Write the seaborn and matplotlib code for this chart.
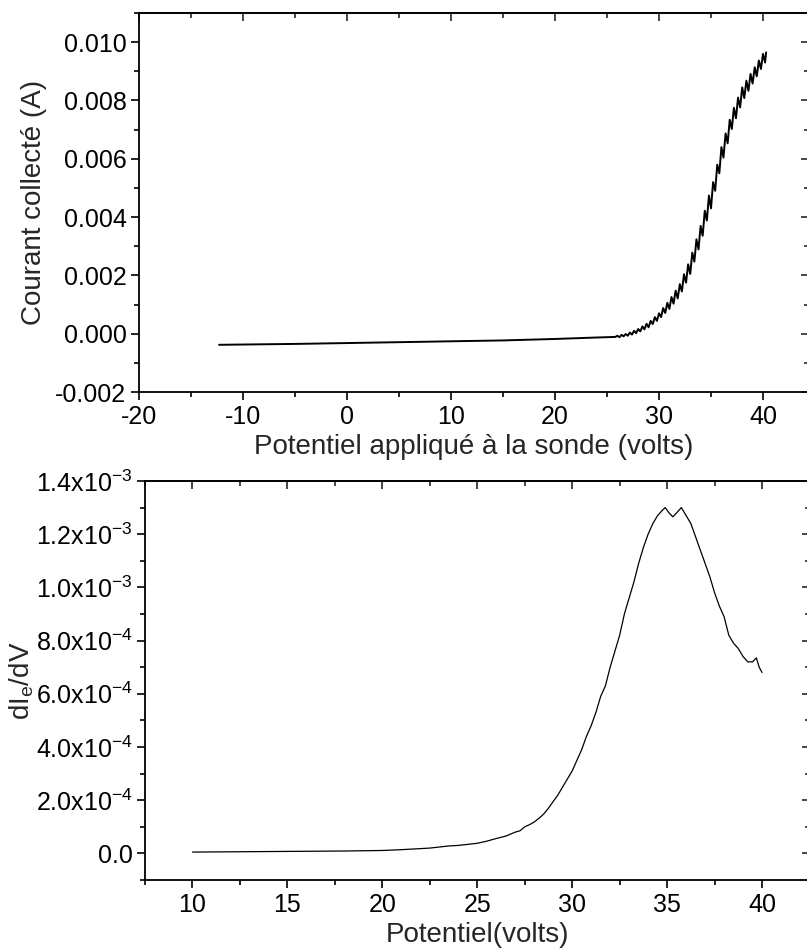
import numpy as np
import pandas as pd
import matplotlib
matplotlib.use("Agg")
import matplotlib.pyplot as plt
import seaborn as sns
from matplotlib.ticker import MultipleLocator, FuncFormatter

# --- top panel: probe I-V characteristic ---
iv_volts = [-12.3, -5.0, 0.0, 5.0, 10.0, 15.0, 20.0, 22.4, 24.0, 25.8,
            26.0, 26.2, 26.4, 26.6, 26.8, 27.0, 27.2, 27.4, 27.6, 27.8,
            28.0, 28.2, 28.4, 28.6, 28.8, 29.0, 29.2, 29.4, 29.6, 29.8,
            30.0, 30.2, 30.4, 30.6, 30.8, 31.0, 31.2, 31.4, 31.6, 31.8,
            32.0, 32.2, 32.4, 32.6, 32.8, 33.0, 33.2, 33.4, 33.6, 33.8,
            34.0, 34.2, 34.4, 34.6, 34.8, 35.0, 35.2, 35.4, 35.6, 35.8,
            36.0, 36.2, 36.4, 36.6, 36.8, 37.0, 37.2, 37.4, 37.6, 37.8,
            38.0, 38.2, 38.4, 38.6, 38.8, 39.0, 39.2, 39.4, 39.6, 39.8,
            40.0, 40.2, 40.3]
iv_current = [-0.00038, -0.00035, -0.00032, -0.00029, -0.00026, -0.00023, -0.00018, -0.00015, -0.00013, -0.00011,
              -0.00007, -0.00012, -0.00004, -0.00009, -0.00001, -0.00007, 0.00004, -0.00003, 0.00010, 0.00002,
              0.00016, 0.00008, 0.00025, 0.00015, 0.00034, 0.00022, 0.00044, 0.00033, 0.00057, 0.00044,
              0.00070, 0.00057, 0.00088, 0.00071, 0.00106, 0.00085, 0.00126, 0.00103, 0.00148, 0.00121,
              0.00170, 0.00145, 0.00204, 0.00175, 0.00238, 0.00205, 0.00278, 0.00247, 0.00324, 0.00289,
              0.00370, 0.00336, 0.00422, 0.00388, 0.00474, 0.00430, 0.00520, 0.00490, 0.00580, 0.00550,
              0.00640, 0.00604, 0.00687, 0.00653, 0.00734, 0.00702, 0.00775, 0.00739, 0.00810, 0.00776,
              0.00845, 0.00808, 0.00868, 0.00833, 0.00891, 0.00858, 0.00914, 0.00883, 0.00937, 0.00908,
              0.00960, 0.00930, 0.00965]

# --- bottom panel: derivative dIe/dV ---
deriv_volts = [10, 12, 14, 16, 18, 20, 21, 22, 22.5, 23, 23.5, 24, 24.5, 25, 25.5,
               26, 26.5, 27, 27.25, 27.5, 27.75, 28, 28.25, 28.5, 28.75, 29, 29.25,
               29.5, 29.75, 30, 30.25, 30.5, 30.75, 31, 31.25, 31.5, 31.75, 32, 32.25,
               32.5, 32.75, 33, 33.25, 33.5, 33.75, 34, 34.25, 34.5, 34.75, 34.9, 35.1,
               35.3, 35.5, 35.75, 36, 36.25, 36.5, 36.75, 37, 37.25, 37.5, 37.75, 38,
               38.25, 38.5, 38.75, 39, 39.25, 39.5, 39.7, 39.85, 40]
deriv_vals = [0.5e-5, 0.6e-5, 0.7e-5, 0.8e-5, 0.9e-5, 1.1e-5, 1.4e-5, 1.8e-5, 2.0e-5, 2.4e-5, 2.8e-5, 3.0e-5, 3.4e-5, 3.8e-5, 4.6e-5,
              5.6e-5, 6.5e-5, 8.0e-5, 8.5e-5, 1.0e-4, 1.08e-4, 1.18e-4, 1.32e-4, 1.48e-4, 1.70e-4, 1.95e-4, 2.2e-4,
              2.5e-4, 2.8e-4, 3.1e-4, 3.5e-4, 3.9e-4, 4.4e-4, 4.8e-4, 5.3e-4, 5.9e-4, 6.3e-4, 7.0e-4, 7.6e-4,
              8.2e-4, 9.0e-4, 9.6e-4, 1.02e-3, 1.09e-3, 1.15e-3, 1.20e-3, 1.24e-3, 1.27e-3, 1.29e-3, 1.30e-3, 1.28e-3,
              1.265e-3, 1.28e-3, 1.30e-3, 1.27e-3, 1.24e-3, 1.19e-3, 1.14e-3, 1.09e-3, 1.04e-3, 0.98e-3, 0.93e-3, 0.89e-3,
              0.82e-3, 0.79e-3, 0.77e-3, 0.74e-3, 0.72e-3, 0.72e-3, 0.735e-3, 0.70e-3, 0.68e-3]

sns.set_theme(style="ticks")
plt.rcParams["font.family"] = ["Liberation Sans", "DejaVu Sans"]
plt.rcParams["mathtext.fontset"] = "custom"
plt.rcParams["mathtext.rm"] = "Liberation Sans"
plt.rcParams["mathtext.it"] = "Liberation Sans:italic"
plt.rcParams["axes.unicode_minus"] = False
plt.rcParams["axes.linewidth"] = 1.3

TICK_FS = 18
LABEL_FS = 20


def style_axes(ax, xmaj, xmin, ymaj, ymin):
    ax.xaxis.set_major_locator(MultipleLocator(xmaj))
    ax.xaxis.set_minor_locator(MultipleLocator(xmin))
    ax.yaxis.set_major_locator(MultipleLocator(ymaj))
    ax.yaxis.set_minor_locator(MultipleLocator(ymin))
    ax.tick_params(which="both", direction="out", width=1.2, labelsize=TICK_FS,
                   colors="black", top=False, right=False, pad=3)
    ax.tick_params(which="major", length=6)
    ax.tick_params(which="minor", length=3.5)
    # Origin-style: top/right ticks point inwards
    top = ax.secondary_xaxis("top")
    right = ax.secondary_yaxis("right")
    top.xaxis.set_major_locator(MultipleLocator(xmaj))
    top.xaxis.set_minor_locator(MultipleLocator(xmin))
    right.yaxis.set_major_locator(MultipleLocator(ymaj))
    right.yaxis.set_minor_locator(MultipleLocator(ymin))
    for sec in (top, right):
        sec.tick_params(which="both", direction="in", width=1.2,
                        labeltop=False, labelright=False, labelbottom=False, labelleft=False)
        sec.tick_params(which="major", length=6)
        sec.tick_params(which="minor", length=3.5)
    for sp in ax.spines.values():
        sp.set_color("black")


fig = plt.figure(figsize=(8.07, 9.49), dpi=100)

ax1 = fig.add_axes([0.1722, 0.5869, 0.830, 0.3994])
df_iv = pd.DataFrame({"V": iv_volts, "I": iv_current})
sns.lineplot(data=df_iv, x="V", y="I", ax=ax1, color="black", linewidth=1.4,
             sort=False, estimator=None)
ax1.set_xlim(-20, 44.4)
ax1.set_ylim(-0.002, 0.011)
style_axes(ax1, 10, 5, 0.002, 0.001)
ax1.yaxis.set_major_formatter(FuncFormatter(lambda v, p: f"{v:.3f}".replace("-0.000", "0.000")))
ax1.set_xlabel("Potentiel appliqué à la sonde (volts)", fontsize=LABEL_FS, labelpad=4)
ax1.set_ylabel("Courant collecté (A)", fontsize=LABEL_FS, labelpad=6)

ax2 = fig.add_axes([0.1797, 0.0727, 0.8234, 0.4205])
df_d = pd.DataFrame({"V": deriv_volts, "dIdV": deriv_vals})
sns.lineplot(data=df_d, x="V", y="dIdV", ax=ax2, color="black", linewidth=0.9,
             sort=False, estimator=None)
ax2.set_xlim(7.5, 42.5)
ax2.set_ylim(-1.0e-4, 1.4e-3)
style_axes(ax2, 5, 2.5, 2e-4, 1e-4)


def sci_fmt(v, p):
    if abs(v) < 1e-12:
        return "0.0"
    e = int(np.floor(np.log10(abs(v))))
    m = v / 10 ** e
    return f"{m:.1f}x10$^{{\\mathregular{{{e}}}}}$"


ax2.yaxis.set_major_formatter(FuncFormatter(sci_fmt))
ax2.set_xlabel("Potentiel(volts)", fontsize=LABEL_FS, labelpad=4)
ax2.set_ylabel(r"dI$_\mathregular{e}$/dV", fontsize=LABEL_FS, labelpad=0)

fig.savefig("out.png", dpi=100)
